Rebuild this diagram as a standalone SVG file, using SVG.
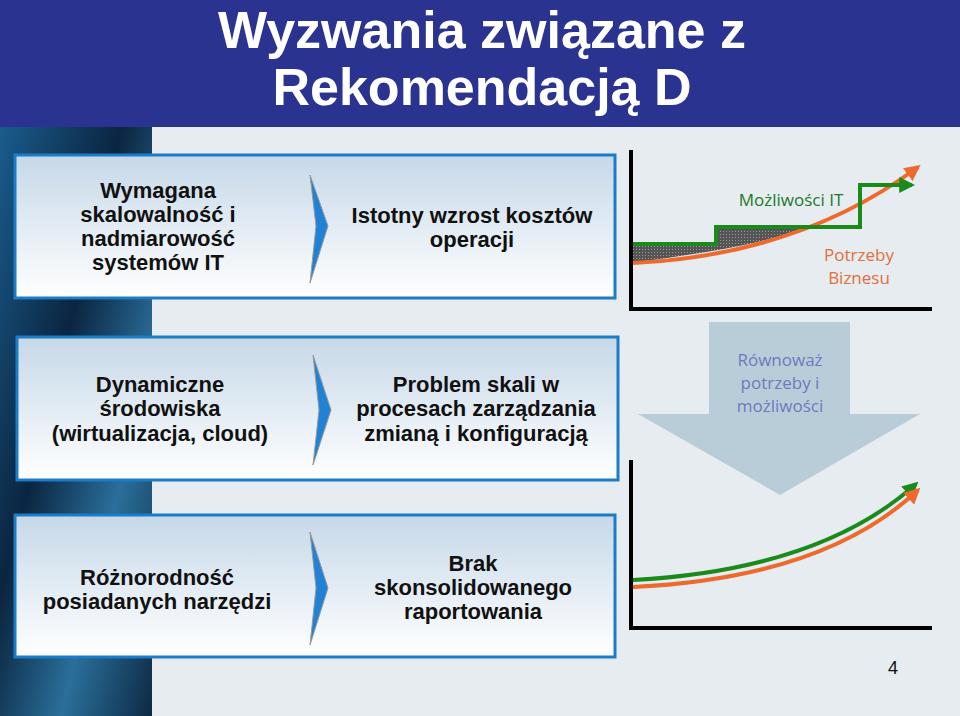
<svg xmlns="http://www.w3.org/2000/svg" width="960" height="716" viewBox="0 0 960 716">
<defs>
<linearGradient id="bx" x1="0" y1="0" x2="0" y2="1"><stop offset="0" stop-color="#c6d8e8"/><stop offset="1" stop-color="#ffffff"/></linearGradient>
<linearGradient id="strip" x1="0" y1="0" x2="1" y2="1"><stop offset="0" stop-color="#1a5c8c"/><stop offset="0.4" stop-color="#0b2540"/><stop offset="0.7" stop-color="#2a6f9a"/><stop offset="1" stop-color="#0d2a44"/></linearGradient>
<pattern id="hatch" width="3" height="3" patternUnits="userSpaceOnUse"><rect width="3" height="3" fill="#555"/><rect width="1" height="1" fill="#999"/></pattern>
<marker id="ag" viewBox="0 0 10 10" refX="8" refY="5" markerWidth="4" markerHeight="4" orient="auto"><path d="M0,0L10,5L0,10z" fill="#1a8a1a"/></marker>
<marker id="ao" viewBox="0 0 10 10" refX="8" refY="5" markerWidth="4" markerHeight="4" orient="auto"><path d="M0,0L10,5L0,10z" fill="#ee6a2c"/></marker>
</defs>
<style>
.box{fill:url(#bx);stroke:#1b7cc8;stroke-width:3}
.t{font-family:"Liberation Sans",Arial,sans-serif;font-weight:bold;font-size:22px;fill:#111;text-anchor:middle}
.chev{fill:#1f82d4;stroke:#999;stroke-width:1}
.c{font-family:"Open Sans",sans-serif;font-size:17px;text-anchor:middle}
.ax{stroke:#000;stroke-width:4;fill:none}
</style>
<rect width="960" height="716" fill="#e6ecef"/>
<rect x="0" y="127" width="152" height="589" fill="url(#strip)"/>
<rect width="960" height="127" fill="#2b3390"/>
<text x="482" y="48" font-family="'Liberation Sans',Arial,sans-serif" font-weight="bold" font-size="52" fill="#fff" text-anchor="middle">Wyzwania związane z</text>
<text x="482" y="105" font-family="'Liberation Sans',Arial,sans-serif" font-weight="bold" font-size="52" fill="#fff" text-anchor="middle">Rekomendacją D</text>
<g id="n1">
<rect class="box" x="15" y="155" width="600" height="143"/>
<path class="chev" d="M310,175L328,226L310,283L316,226z"/>
<text class="t" x="158" y="198">Wymagana</text><text class="t" x="158" y="222">skalowalność i</text><text class="t" x="158" y="246">nadmiarowość</text><text class="t" x="158" y="270">systemów IT</text>
<text class="t" x="472" y="223">Istotny wzrost kosztów</text><text class="t" x="472" y="247">operacji</text>
</g>
<g id="n2">
<rect class="box" x="17" y="337" width="601" height="143"/>
<path class="chev" d="M313,355L331,410L313,465L319,410z"/>
<text class="t" x="160" y="392">Dynamiczne</text><text class="t" x="160" y="416">środowiska</text><text class="t" x="160" y="441">(wirtualizacja, cloud)</text>
<text class="t" x="476" y="392">Problem skali w</text><text class="t" x="476" y="416">procesach zarządzania</text><text class="t" x="476" y="441">zmianą i konfiguracją</text>
</g>
<g id="n3">
<rect class="box" x="15" y="515" width="600" height="142"/>
<path class="chev" d="M310,532L328,588L310,645L316,588z"/>
<text class="t" x="157" y="585">Różnorodność</text><text class="t" x="157" y="609">posiadanych narzędzi</text>
<text class="t" x="473" y="571">Brak</text><text class="t" x="473" y="595">skonsolidowanego</text><text class="t" x="473" y="619">raportowania</text>
</g>
<g id="chart1">
<path d="M633,244H716V227H810Q760,245 680,256Q650,261 633,262z" fill="url(#hatch)"/>
<path class="ax" d="M631,150V309H932"/>
<path d="M633,263Q800,255 918,167" stroke="#ee6a2c" stroke-width="4" fill="none" marker-end="url(#ao)"/>
<path d="M633,244H716V227H860V185H912" stroke="#1a8a1a" stroke-width="4" fill="none" marker-end="url(#ag)"/>
<text class="c" x="791" y="206" fill="#1a7a2a">Możliwości IT</text>
<text class="c" x="859" y="261" fill="#e0703c">Potrzeby</text><text class="c" x="859" y="284" fill="#e0703c">Biznesu</text>
</g>
<g id="arrow">
<path d="M709,322H850V414H920L780,495L638,414H709z" fill="#b9cdd9"/>
<text class="c" x="780" y="366" fill="#6a7bc0">Równoważ</text><text class="c" x="780" y="389" fill="#6a7bc0">potrzeby i</text><text class="c" x="780" y="412" fill="#6a7bc0">możliwości</text>
</g>
<g id="chart2">
<path class="ax" d="M631,460V628H932"/>
<path d="M633,580Q820,570 916,484" stroke="#1a8a1a" stroke-width="4" fill="none" marker-end="url(#ag)"/>
<path d="M633,587Q825,578 918,490" stroke="#ee6a2c" stroke-width="4" fill="none" marker-end="url(#ao)"/>
</g>
<text x="893" y="674" font-family="'Liberation Sans',Arial,sans-serif" font-size="18" fill="#111" text-anchor="middle">4</text>
</svg>
